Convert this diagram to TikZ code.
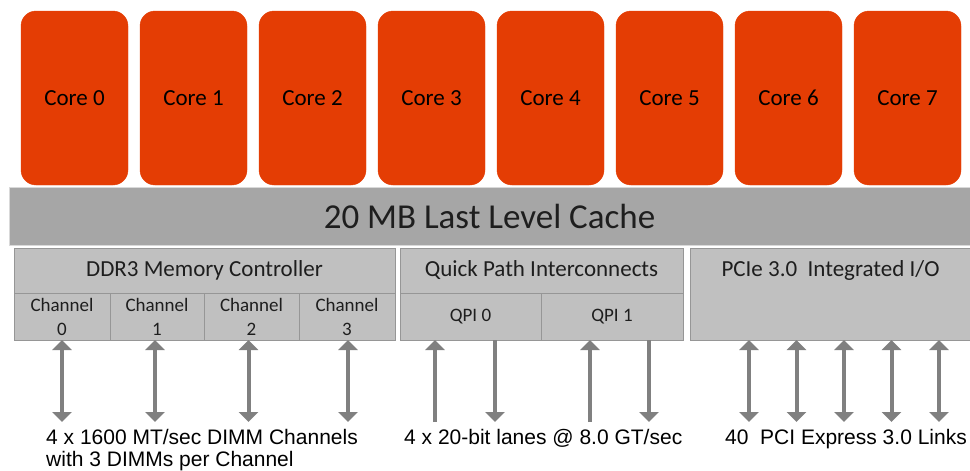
\documentclass[tikz,border=0pt]{standalone}
\usepackage{fontspec}
\newfontfamily\carlito{Carlito}
\newfontfamily\arialf{Liberation Sans}
\usetikzlibrary{arrows.meta}
\definecolor{coreorange}{RGB}{228,61,4}
\definecolor{cachegray}{RGB}{166,166,166}
\definecolor{boxgray}{RGB}{192,192,192}
\definecolor{boxline}{RGB}{150,150,150}
\definecolor{arrowgray}{RGB}{128,128,128}
\definecolor{textdark}{RGB}{30,30,30}
\tikzset{
  core/.style={rectangle, rounded corners=15pt, fill=coreorange, draw=coreorange,
    minimum width=107pt, minimum height=174pt, inner sep=0pt, outer sep=0pt,
    font=\carlito\fontsize{23}{27}\selectfont, text=black},
  cachebar/.style={rectangle, fill=cachegray, draw=white!85!black, line width=1pt,
    minimum width=961pt, minimum height=58pt, inner sep=0pt, outer sep=0pt,
    font=\carlito\fontsize{35}{40}\selectfont, text=textdark},
  hdrbox/.style={rectangle, fill=boxgray, draw=boxline, line width=0.8pt,
    minimum height=45pt, inner sep=0pt, outer sep=0pt,
    font=\carlito\fontsize{23}{27}\selectfont, text=textdark},
  subbox/.style={rectangle, fill=boxgray, draw=boxline, line width=0.8pt,
    minimum height=47pt, inner sep=0pt, outer sep=0pt, align=center,
    font=\carlito\fontsize{19}{24}\selectfont, text=textdark},
  bottomtext/.style={inner sep=0pt, align=left,
    font=\arialf\fontsize{21}{22}\selectfont, text=black},
  dbl/.style={arrowgray, line width=4pt,
    {Triangle[width=19pt,length=10pt]}-{Triangle[width=19pt,length=10pt]}},
  uni/.style={arrowgray, line width=4pt, -{Triangle[width=19pt,length=10pt]}},
}
\begin{document}
\begin{tikzpicture}[x=1pt,y=-1pt]
\useasboundingbox (0,0) rectangle (970,471);
% cores
\foreach \i in {0,...,7}{
  \node[core] (c\i) at ({74.5+119*\i},98) {Core \i};
}
% cache
\node[cachebar] (cache) at (489.5,216) {20 MB Last Level Cache};
% DDR3
\node[hdrbox, minimum width=381pt] (ddr) at (204.5,270.5) {DDR3 Memory Controller};
\node[subbox, minimum width=96pt] (ch0) at (62,316.5) {Channel\\0};
\node[subbox, minimum width=94pt] (ch1) at (157,316.5) {Channel\\1};
\node[subbox, minimum width=95pt] (ch2) at (251.5,316.5) {Channel\\2};
\node[subbox, minimum width=96pt] (ch3) at (347,316.5) {Channel\\3};
% QPI
\node[hdrbox, minimum width=283pt] (qpi) at (541.5,270.5) {Quick Path Interconnects};
\node[subbox, minimum width=141pt] (q0) at (470.5,316.5) {QPI 0};
\node[subbox, minimum width=142pt] (q1) at (612,316.5) {QPI 1};
% PCIe
\node[hdrbox, minimum width=281pt, minimum height=92pt,
  label={[anchor=center, yshift=-22pt, font=\carlito\fontsize{23}{27}\selectfont, text=textdark]north:{PCIe 3.0~~Integrated I/O}}]
  (pcie) at (830.5,294) {};
% bottom level
\coordinate (bot) at (0,422);
% DDR arrows
\draw[dbl] (ch0.south) -- (ch0.south |- bot);
\draw[dbl] ([xshift=-2pt]ch1.south) -- ([xshift=-2pt]ch1.south |- bot);
\draw[dbl] ([xshift=-3pt]ch2.south) -- ([xshift=-3pt]ch2.south |- bot);
\draw[dbl] ([xshift=1pt]ch3.south) -- ([xshift=1pt]ch3.south |- bot);
% QPI arrows
\draw[uni] ([xshift=-35.5pt]q0.south |- bot) -- ([xshift=-35.5pt]q0.south);
\draw[uni] ([xshift=24.5pt]q0.south) -- ([xshift=24.5pt]q0.south |- bot);
\draw[uni] ([xshift=-22pt]q1.south |- bot) -- ([xshift=-22pt]q1.south);
\draw[uni] ([xshift=37pt]q1.south) -- ([xshift=37pt]q1.south |- bot);
% PCIe arrows
\foreach \dx in {-81.5,-34,13.5,61,108.5}{
  \draw[dbl] ([xshift=\dx pt]pcie.south) -- ([xshift=\dx pt]pcie.south |- bot);
}
% bottom texts
\node[bottomtext, anchor=north west] (ddrtxt) at (46,429) {4 x 1600 MT/sec DIMM Channels\\with 3 DIMMs per Channel};
\node[bottomtext, anchor=north west] (qpitxt) at (404,429) {4 x 20-bit lanes @ 8.0 GT/sec};
\node[bottomtext, anchor=north west] (pcietxt) at (725,429) {40~~PCI Express 3.0 Links};
\end{tikzpicture}
\end{document}
